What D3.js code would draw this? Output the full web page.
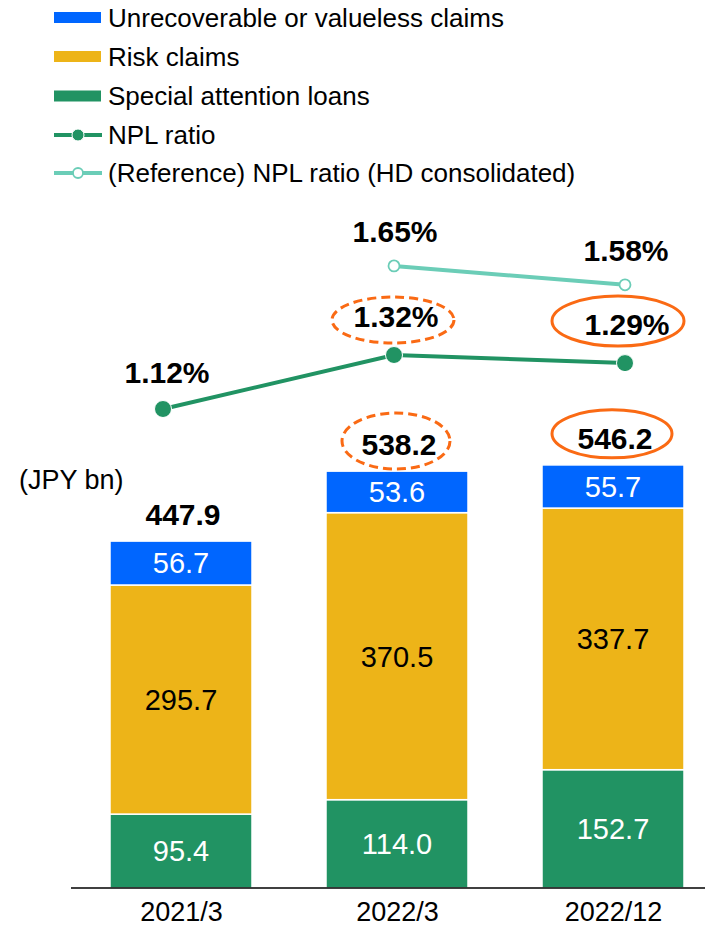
<!DOCTYPE html>
<html>
<head>
<meta charset="utf-8">
<script src="https://cdn.jsdelivr.net/npm/d3@7"></script>
<style>
  html, body { margin: 0; padding: 0; background: #fff; }
  svg { display: block; font-family: "Liberation Sans", Arial, sans-serif; }
</style>
</head>
<body>
<svg id="chart" width="705" height="928"></svg>
<script>
// ---- data ----
const categories = ["2021/3", "2022/3", "2022/12"];
const specialAttention = [95.4, 114.0, 152.7];
const riskClaims = [295.7, 370.5, 337.7];
const unrecoverable = [56.7, 53.6, 55.7];
const totals = [447.9, 538.2, 546.2];
const nplRatio = [1.12, 1.32, 1.29];
const refRatioCats = ["2022/3", "2022/12"];
const refRatio = [1.65, 1.58];
const seriesNames = ["Unrecoverable or valueless claims", "Risk claims", "Special attention loans", "NPL ratio", "(Reference) NPL ratio (HD consolidated)"];
const highlightDashed = "2022/3";
const highlightSolid = "2022/12";

const colors = {
  unrec: "#0066FF",
  risk: "#EDB418",
  special: "#219363",
  npl: "#219363",
  ref: "#6BCDB7",
  orange: "#FA6A14"
};

const svg = d3.select("#chart");

// ---- scales ----
const xBar = d3.scalePoint().domain(categories).range([181, 613]);
const barW = 142;
const xLine = d3.scalePoint().domain(categories).range([163, 625]);
const yVal = d3.scaleLinear().domain([0, 600]).range([888, 888 - 600 * 0.7747]);
const yRatio = d3.scaleLinear().domain([1.0, 1.7]).range([409 + 0.12 * 270, 409 - 0.58 * 270]);

// ---- stacked bars ----
const rows = categories.map((c, i) => ({
  cat: c, special: specialAttention[i], risk: riskClaims[i], unrec: unrecoverable[i]
}));
const stack = d3.stack().keys(["special", "risk", "unrec"]);
const stacked = stack(rows);

const gBars = svg.append("g");
stacked.forEach(layer => {
  const g = gBars.append("g");
  g.selectAll("rect").data(layer).enter().append("rect")
    .attr("x", d => xBar(d.data.cat) - barW / 2)
    .attr("width", barW)
    .attr("y", d => yVal(d[1]))
    .attr("height", d => yVal(d[0]) - yVal(d[1]))
    .attr("fill", colors[layer.key])
    .attr("stroke", "#fff")
    .attr("stroke-width", 1.5);
  g.selectAll("text").data(layer).enter().append("text")
    .attr("x", d => xBar(d.data.cat))
    .attr("y", d => (yVal(d[0]) + yVal(d[1])) / 2)
    .attr("dy", "0.36em")
    .attr("text-anchor", "middle")
    .attr("fill", layer.key === "risk" ? "#000" : "#fff")
    .attr("font-size", 29)
    .text(d => d.data[layer.key].toFixed(1));
});

// totals
svg.append("g").selectAll("text").data(categories).enter().append("text")
  .attr("x", (c) => xBar(c) + 2)
  .attr("y", (c, i) => yVal(totals[i]) - 16)
  .attr("text-anchor", "middle")
  .attr("font-size", 30)
  .attr("font-weight", "bold")
  .text((c, i) => totals[i].toFixed(1));

// axis
const axis = d3.axisBottom(xBar).tickSize(0).tickPadding(14);
const gAxis = svg.append("g").attr("transform", "translate(0,888)").call(axis);
gAxis.select(".domain").remove();
gAxis.selectAll("text").attr("font-size", 27).attr("fill", "#000")
  .attr("font-family", "Liberation Sans, Arial, sans-serif");
svg.append("line").attr("x1", 71).attr("x2", 705).attr("y1", 888).attr("y2", 888)
  .attr("stroke", "#000").attr("stroke-width", 1.5);

// unit label
svg.append("text").attr("x", 19).attr("y", 489).attr("font-size", 27).text("(JPY bn)");

// ---- lines ----
const lineGen = d3.line().x(d => xLine(d.cat)).y(d => yRatio(d.v));
const nplData = categories.map((c, i) => ({ cat: c, v: nplRatio[i] }));
const refData = refRatioCats.map((c, i) => ({ cat: c, v: refRatio[i] }));

svg.append("path").datum(refData).attr("d", lineGen)
  .attr("fill", "none").attr("stroke", colors.ref).attr("stroke-width", 4);
svg.append("g").selectAll("circle").data(refData).enter().append("circle")
  .attr("cx", d => xLine(d.cat)).attr("cy", d => yRatio(d.v)).attr("r", 5.5)
  .attr("fill", "#fff").attr("stroke", colors.ref).attr("stroke-width", 1.8);

svg.append("path").datum(nplData).attr("d", lineGen)
  .attr("fill", "none").attr("stroke", colors.npl).attr("stroke-width", 4);
svg.append("g").selectAll("circle").data(nplData).enter().append("circle")
  .attr("cx", d => xLine(d.cat)).attr("cy", d => yRatio(d.v)).attr("r", 8.5)
  .attr("fill", colors.npl).attr("stroke", "#fff").attr("stroke-width", 1);

// line labels
const nplLabelOffsets = [[4, -26], [2, -28], [2, -28]];
svg.append("g").selectAll("text").data(nplData).enter().append("text")
  .attr("x", (d, i) => xLine(d.cat) + nplLabelOffsets[i][0])
  .attr("y", (d, i) => yRatio(d.v) + nplLabelOffsets[i][1])
  .attr("text-anchor", "middle").attr("font-size", 30).attr("font-weight", "bold")
  .text(d => d.v.toFixed(2) + "%");
svg.append("g").selectAll("text").data(refData).enter().append("text")
  .attr("x", d => xLine(d.cat) + 1)
  .attr("y", d => yRatio(d.v) - 24)
  .attr("text-anchor", "middle").attr("font-size", 30).attr("font-weight", "bold")
  .text(d => d.v.toFixed(2) + "%");

// ---- highlight ellipses ----
const iD = categories.indexOf(highlightDashed);
const iS = categories.indexOf(highlightSolid);
const ellipses = [
  { cx: xLine(highlightDashed) - 1, cy: yRatio(nplRatio[iD]) - 35, rx: 61, ry: 23, dash: true },
  { cx: xBar(highlightDashed) - 1, cy: yVal(totals[iD]) - 30, rx: 54, ry: 28, dash: true },
  { cx: xLine(highlightSolid) - 7, cy: yRatio(nplRatio[iS]) - 42, rx: 66, ry: 25, dash: false },
  { cx: xBar(highlightSolid) - 1, cy: yVal(totals[iS]) - 31, rx: 60, ry: 24, dash: false }
];
svg.append("g").selectAll("ellipse").data(ellipses).enter().append("ellipse")
  .attr("cx", d => d.cx).attr("cy", d => d.cy).attr("rx", d => d.rx).attr("ry", d => d.ry)
  .attr("fill", "none").attr("stroke", colors.orange).attr("stroke-width", 3)
  .attr("stroke-dasharray", d => d.dash ? "9,5" : null);

// ---- legend ----
const legendY = [17.5, 56.5, 96, 135, 173];
const lg = svg.append("g");
const swatchColors = [colors.unrec, colors.risk, colors.special];
seriesNames.forEach((name, i) => {
  const y = legendY[i];
  if (i < 3) {
    lg.append("rect").attr("x", 54).attr("y", y - 5.5).attr("width", 47).attr("height", 11)
      .attr("fill", swatchColors[i]);
  } else {
    const col = i === 3 ? colors.npl : colors.ref;
    lg.append("line").attr("x1", 54).attr("x2", 102).attr("y1", y).attr("y2", y)
      .attr("stroke", col).attr("stroke-width", 4);
    lg.append("circle").attr("cx", 78).attr("cy", y).attr("r", i === 3 ? 6 : 5)
      .attr("fill", i === 3 ? col : "#fff").attr("stroke", i === 3 ? "#fff" : col)
      .attr("stroke-width", i === 3 ? 1 : 1.8);
  }
  lg.append("text").attr("x", 108).attr("y", y).attr("dy", "0.36em")
    .attr("font-size", 26).text(name);
});
</script>
</body>
</html>
